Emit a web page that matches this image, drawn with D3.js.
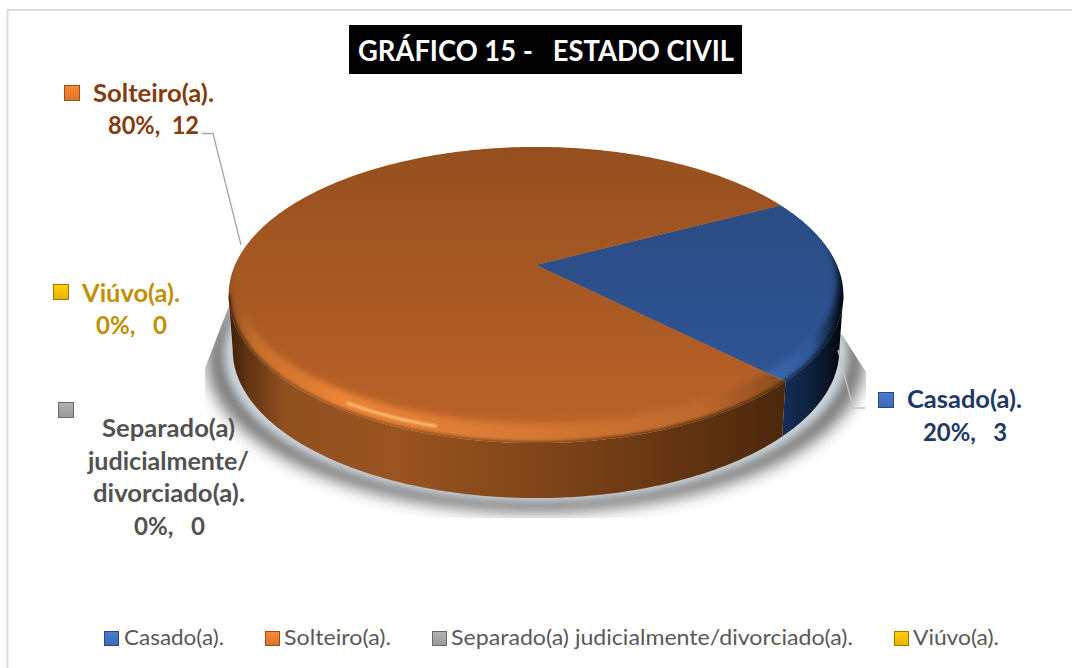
<!DOCTYPE html>
<html lang="pt">
<head>
<meta charset="utf-8">
<title>Gráfico 15 - Estado civil</title>
<script src="https://cdn.jsdelivr.net/npm/d3@7/dist/d3.min.js"></script>
<style>
  html, body { margin: 0; padding: 0; background: #fff; }
  svg { display: block; }
  text { font-family: Lato, "Open Sans", sans-serif; white-space: pre; }
</style>
</head>
<body>
<div id="chart"></div>
<script>
// Chart content
const chartTitle = "GRÁFICO 15 -   ESTADO CIVIL";
const categories = ["Casado(a).", "Solteiro(a).", "Separado(a) judicialmente/divorciado(a).", "Viúvo(a)."];
const counts = [3, 12, 0, 0];
const percents = [20, 80, 0, 0];
const labelNames = [["Casado(a)."], ["Solteiro(a)."], ["Separado(a)", "judicialmente/", "divorciado(a)."], ["Viúvo(a)."]];
const labelGaps = ["\u00a0\u00a0\u00a0", "\u00a0\u00a0", "\u00a0\u00a0\u00a0", "\u00a0\u00a0\u00a0"];

// Series colours
const swatchColors = ["#4472c4", "#ed7d31", "#a5a5a5", "#ffc000"];
const labelColors = ["#203864", "#843c0c", "#525252", "#bf9000"];

const width = 1072, height = 668;
const svg = d3.select("#chart").append("svg").attr("width", width).attr("height", height);
const defs = svg.append("defs");

svg.append("rect").attr("width", width).attr("height", height).attr("fill", "#fff");
// Only the top and left edges of the chart frame are in view
svg.append("path").attr("d", d3.line()([[7.5, 668], [7.5, 10], [1072, 10]]))
  .attr("fill", "none").attr("stroke", "#dedede").attr("stroke-width", 2);

// Disc projections: a unit circle under a perspective divide, so the near side looks larger.
const outerDisc = { cx: 536, cy: 265, R: 301, S: 142, k: 0.2026, dy: 0 };
const maskDisc = { cx: 536, cy: 265, R: 299, S: 139.6, k: 0.1166, dy: 0 };
const baseDisc = { cx: 536, cy: 265, R: 297, S: 142, k: 0.2026, dy: 55 };

function project(disc, a, scale = 1) {
  const u = Math.sin(a), v = -Math.cos(a), w = 1 - disc.k * v;
  return [disc.cx + scale * disc.R * u / w, disc.cy + disc.dy + disc.S * v / w];
}
const arcPoints = (disc, a0, a1) => {
  const n = Math.max(2, Math.ceil(Math.abs(a1 - a0) / 0.01));
  return d3.range(n + 1).map(i => project(disc, a0 + (a1 - a0) * i / n));
};
const lineGen = d3.line();
const fullDisc = (disc, scale = 1) =>
  lineGen(d3.range(361).map(i => project(disc, i * Math.PI / 180, scale))) + "Z";
const slicePath = (disc, d) =>
  lineGen([[disc.cx, disc.cy + disc.dy], ...arcPoints(disc, d.startAngle, d.endAngle)]) + "Z";

// Slices start 27.3 degrees above due east and run clockwise
const startAngle = (90 - 27.3) * Math.PI / 180;
const pie = d3.pie().sort(null).startAngle(startAngle).endAngle(startAngle + 2 * Math.PI);
const arcs = pie(counts);
const visibleArcs = arcs.filter(d => d.value > 0);

// Helpers for gradients and filters
function gradient(id, x1, y1, x2, y2, stops) {
  const g = defs.append("linearGradient").attr("id", id).attr("gradientUnits", "userSpaceOnUse")
    .attr("x1", x1).attr("y1", y1).attr("x2", x2).attr("y2", y2);
  stops.forEach(([o, c]) => g.append("stop").attr("offset", o).attr("stop-color", c));
}
function blur(id, sd) {
  defs.append("filter").attr("id", id).attr("x", "-20%").attr("y", "-20%").attr("width", "140%").attr("height", "140%")
    .append("feGaussianBlur").attr("stdDeviation", sd);
}
blur("b1", 1.2); blur("b2", 1.5); blur("b3", 3); blur("b5", 5); blur("b7", 8);

const faceFill = ["url(#faceBlue)", "url(#faceOrange)"];
const rimFill = ["url(#rimBlue)", "url(#rimOrange)"];
const wallFill = ["url(#wallBlue)", "url(#wallOrange)"];
gradient("faceOrange", 0, 147, 0, 425, [[0, "#954f1f"], [1, "#ba6227"]]);
gradient("faceBlue", 0, 200, 0, 380, [[0, "#2b4c83"], [1, "#2f5596"]]);
gradient("rimOrange", 228, 0, 785, 0, [[0, "#8f4f20"], [0.05, "#c66e2d"], [0.2, "#ec8436"], [0.5, "#d97a34"], [0.85, "#bd682c"], [1, "#8a4b1d"]]);
gradient("rimBlue", 780, 0, 843, 0, [[0, "#3a66a8"], [0.5, "#2f5796"], [0.85, "#10233f"], [1, "#050b16"]]);
gradient("wallOrange", 230, 0, 782, 0, [[0, "#3f2009"], [0.03, "#5f3212"], [0.1, "#91501f"], [0.3, "#9a5420"], [0.6, "#7c4318"], [0.85, "#5f3210"], [1, "#4d280c"]]);
gradient("wallBlue", 780, 0, 840, 0, [[0, "#16305a"], [0.4, "#0f2444"], [0.8, "#081427"], [1, "#04080f"]]);

// Ground shadow, cut off by the plot's rendering box
defs.append("clipPath").attr("id", "shadowClip").append("polygon")
  .attr("points", "232,298 205,368 205,518 866,518 866,372 842,335 536,300");
const shadow = svg.append("g").attr("clip-path", "url(#shadowClip)");
shadow.append("path").attr("d", fullDisc({ ...baseDisc, S: 146, dy: 64 }, 1.085)).attr("fill", "#666")
  .attr("filter", "url(#b7)").attr("opacity", 0.9);
shadow.append("path").attr("d", fullDisc({ ...baseDisc, dy: 59 }, 1.03)).attr("fill", "#cdd5dc")
  .attr("filter", "url(#b5)");

// Side wall: only the part of each slice's edge that faces the viewer
const frontStart = Math.PI / 2 + Math.asin(outerDisc.k);
const frontEnd = 3 * Math.PI / 2 - Math.asin(outerDisc.k);
const clampFront = d => [Math.max(d.startAngle, frontStart), Math.min(d.endAngle, frontEnd)];
svg.append("g").selectAll("path").data(visibleArcs).join("path")
  .attr("d", d => {
    const [a0, a1] = clampFront(d);
    return lineGen([...arcPoints(outerDisc, a0, a1), ...arcPoints(baseDisc, a1, a0)]) + "Z";
  })
  .attr("fill", d => wallFill[d.index]);

// Bevelled rim, the full-size slices
svg.append("g").selectAll("path").data(visibleArcs).join("path")
  .attr("d", d => slicePath(outerDisc, d))
  .attr("fill", d => rimFill[d.index]);

// Soft transition where the rim rolls over into the wall
defs.append("clipPath").attr("id", "outerClip").append("path").attr("d", fullDisc(outerDisc));
svg.append("g").attr("clip-path", "url(#outerClip)").selectAll("path").data(visibleArcs).join("path")
  .attr("d", d => { const [a0, a1] = clampFront(d); return lineGen(arcPoints(outerDisc, a0, a1)); })
  .attr("fill", "none").attr("stroke", d => wallFill[d.index]).attr("stroke-width", 4)
  .attr("filter", "url(#b2)");

// Top face, feathered at its edge so that it melts into the rim
const faceMask = defs.append("mask").attr("id", "faceMask").attr("maskUnits", "userSpaceOnUse")
  .attr("x", 0).attr("y", 0).attr("width", width).attr("height", height);
faceMask.append("path").attr("d", fullDisc(maskDisc)).attr("fill", "#fff").attr("filter", "url(#b3)");
svg.append("g").attr("clip-path", "url(#outerClip)")
  .append("g").attr("mask", "url(#faceMask)")
  .selectAll("path").data(visibleArcs).join("path")
  .attr("d", d => slicePath(outerDisc, d))
  .attr("fill", d => faceFill[d.index]);

// Specular streak on the rim
const streakDisc = { ...outerDisc, S: 139.5, k: 0.1749, R: 299 };
svg.append("path")
  .attr("d", lineGen(arcPoints(streakDisc, Math.PI * 1.09, Math.PI * 1.18)))
  .attr("fill", "none").attr("stroke", "#ffc77a").attr("stroke-width", 2.6).attr("stroke-linecap", "round")
  .attr("filter", "url(#b1)");

// Leader lines
const leader = d3.line();
svg.append("path").attr("d", leader([[202, 133.5], [213, 133.5], [241, 245]]))
  .attr("fill", "none").attr("stroke", "#a6a6a6").attr("stroke-width", 1.3);
svg.append("path").attr("d", leader([[865, 408], [853, 408], [838, 350]]))
  .attr("fill", "none").attr("stroke", "#c4c4c4").attr("stroke-width", 1.3);

// Bevelled legend key
function swatch(x, y, size, i) {
  const id = "key" + i + "_" + Math.round(x);
  const base = d3.color(swatchColors[i]);
  gradient(id, 0, y, 0, y + size, [[0, base.brighter(0.25).formatHex()], [1, base.darker(0.25).formatHex()]]);
  svg.append("rect").attr("x", x + 0.5).attr("y", y + 0.5).attr("width", size - 1).attr("height", size - 1)
    .attr("fill", `url(#${id})`).attr("stroke", base.darker(1.3).formatHex()).attr("stroke-width", 1);
}

// Text fitted to a given horizontal span
function fitted(str, x0, x1, baseline, size, weight, color) {
  return svg.append("text").attr("x", x0).attr("y", baseline).attr("font-size", size).attr("font-weight", weight)
    .attr("fill", color).attr("textLength", x1 - x0).attr("lengthAdjust", "spacingAndGlyphs").text(str);
}

// Title
svg.append("rect").attr("x", 349).attr("y", 25).attr("width", 393).attr("height", 49).attr("fill", "#000");
fitted(chartTitle, 358, 734, 61, 29, 700, "#fff");

// Data labels: text spans and baselines, one row per category
const labelLayout = [
  { key: [878, 392], rows: [[907, 1022, 408], [923, 1007, 441]] },
  { key: [64, 85], rows: [[93, 214, 102], [108, 199, 134]] },
  { key: [58, 402], rows: [[102, 235, 437], [88, 249, 470], [93, 245, 502], [134, 205, 535]] },
  { key: [53, 284], rows: [[82, 180, 302], [96, 167, 334]] }
];
categories.forEach((c, i) => {
  const layout = labelLayout[i];
  swatch(layout.key[0], layout.key[1], 16, i);
  const lines = [...labelNames[i], `${percents[i]}%,${labelGaps[i]}${counts[i]}`];
  lines.forEach((line, j) => {
    const [x0, x1, y] = layout.rows[j];
    fitted(line, x0, x1, y, 25, 700, labelColors[i]);
  });
});

// Bottom legend
const legendLayout = [[104, 124, 224], [265, 284, 391], [432, 451, 853], [894, 913, 999]];
categories.forEach((c, i) => {
  const [kx, x0, x1] = legendLayout[i];
  swatch(kx, 631, 15, i);
  fitted(c, x0, x1, 645, 21, 400, "#595959");
});
</script>
</body>
</html>
